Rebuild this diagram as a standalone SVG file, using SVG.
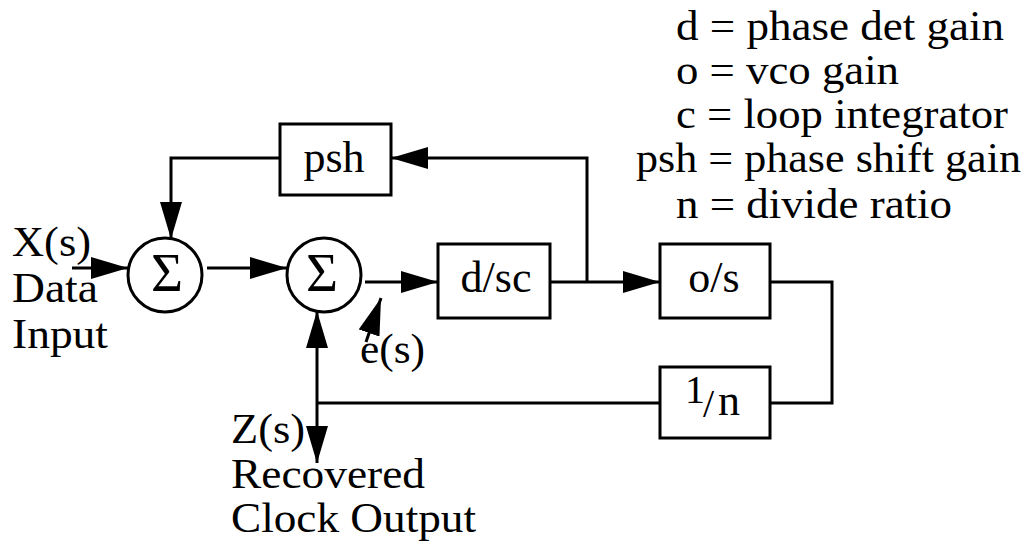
<svg xmlns="http://www.w3.org/2000/svg" width="1035" height="543" viewBox="0 0 1035 543">
<style>
text{font-family:"Liberation Serif","Times New Roman",serif;font-size:42px;fill:#000}
.box{fill:#fff;stroke:#000;stroke-width:3}
.sum{fill:#fff;stroke:#000;stroke-width:3}
.sig{font-size:55px;text-anchor:middle}
.lbl{text-anchor:middle;font-size:44px}
.wire{fill:none;stroke:#000;stroke-width:3}
.arr{marker-end:url(#ah)}
</style>
<defs>
<marker id="ah" markerUnits="userSpaceOnUse" markerWidth="38" markerHeight="22" refX="37" refY="11" orient="auto">
<path d="M0,0 L37,11 L0,22 z" fill="#000"/>
</marker>
</defs>
<rect width="1035" height="543" fill="#fff"/>
<g id="connectors">
<path class="wire arr" d="M72,268 L128,268"/>
<path class="wire arr" d="M279,158 L171,158 L171,239"/>
<path class="wire arr" d="M207,268 L287,268"/>
<path class="wire arr" d="M365,282 L438,282"/>
<path class="wire arr" d="M550,282 L660,282"/>
<path class="wire arr" d="M587,282 L587,158 L391,158"/>
<path class="wire" d="M770,282 L832,282 L832,403 L770,403"/>
<path class="wire" d="M660,403 L317,403"/>
<path class="wire arr" d="M317,403 L317,311"/>
<path class="wire arr" d="M317,403 L317,463"/>
<path class="wire arr" d="M366,342 L381,298"/>
</g>
<g id="sum1"><circle class="sum" cx="165" cy="275" r="37"/><text class="sig" x="167" y="291">Σ</text></g>
<g id="sum2"><circle class="sum" cx="324" cy="275" r="37"/><text class="sig" x="322" y="291">Σ</text></g>
<g id="psh"><rect class="box" x="280" y="124" width="111" height="71"/><text class="lbl" x="334" y="172">psh</text></g>
<g id="dsc"><rect class="box" x="438" y="244" width="112" height="74"/><text class="lbl" x="496" y="292">d/sc</text></g>
<g id="os"><rect class="box" x="660" y="244" width="110" height="74"/><text class="lbl" x="714" y="292">o/s</text></g>
<g id="divn"><rect class="box" x="660" y="367" width="110" height="71"/><text x="685" y="403" style="font-size:40px">1</text><text x="703" y="417" style="font-size:40px">/</text><text x="718" y="415" style="font-size:44px">n</text></g>
<g id="input-label"><text x="12" y="256" textLength="79" lengthAdjust="spacingAndGlyphs">X(s)</text><text x="12" y="302" textLength="86" lengthAdjust="spacingAndGlyphs">Data</text><text x="12" y="348" textLength="96" lengthAdjust="spacingAndGlyphs">Input</text></g>
<g id="error-label"><text x="360" y="363" textLength="65" lengthAdjust="spacingAndGlyphs">e(s)</text></g>
<g id="output-label"><text x="231" y="443" textLength="74" lengthAdjust="spacingAndGlyphs">Z(s)</text><text x="231" y="488" textLength="194" lengthAdjust="spacingAndGlyphs">Recovered</text><text x="231" y="532" textLength="245" lengthAdjust="spacingAndGlyphs">Clock Output</text></g>
<g id="legend">
<text x="676" y="40" textLength="328" lengthAdjust="spacingAndGlyphs">d = phase det gain</text>
<text x="676" y="84" textLength="223" lengthAdjust="spacingAndGlyphs">o = vco gain</text>
<text x="676" y="128" textLength="332" lengthAdjust="spacingAndGlyphs">c = loop integrator</text>
<text x="636" y="172" textLength="385" lengthAdjust="spacingAndGlyphs">psh = phase shift gain</text>
<text x="676" y="218" textLength="276" lengthAdjust="spacingAndGlyphs">n = divide ratio</text>
</g>
</svg>
